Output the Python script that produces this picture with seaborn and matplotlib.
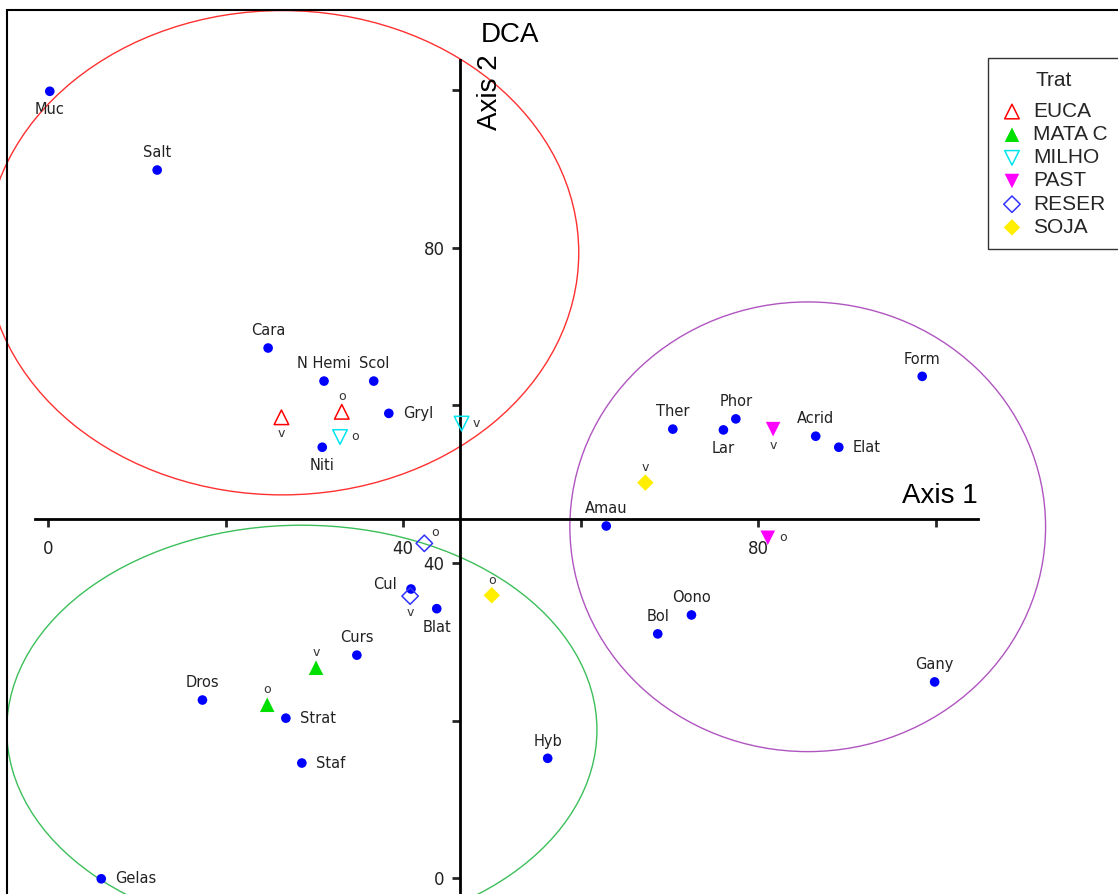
import matplotlib
matplotlib.use('Agg')
import matplotlib.pyplot as plt
import seaborn as sns
import pandas as pd
from matplotlib.patches import Ellipse, Rectangle

sns.set_style('white')

# species scores (DCA axis 1, axis 2)
species = ['Muc', 'Salt', 'Cara', 'N Hemi', 'Scol', 'Gryl', 'Niti', 'Form', 'Ther',
           'Phor', 'Lar', 'Acrid', 'Elat', 'Amau', 'Oono', 'Bol', 'Gany', 'Hyb',
           'Cul', 'Blat', 'Curs', 'Dros', 'Strat', 'Staf', 'Gelas']
sp_ax1 = [0.2, 12.3, 24.8, 31.1, 36.7, 38.4, 30.9, 98.5, 70.4,
          77.5, 76.1, 86.5, 89.1, 62.9, 72.5, 68.7, 99.9, 56.3,
          40.9, 43.8, 34.8, 17.4, 26.8, 28.6, 6.0]
sp_ax2 = [99.9, 89.9, 67.3, 63.1, 63.1, 59.0, 54.7, 63.7, 57.0,
          58.3, 56.9, 56.1, 54.7, 44.7, 33.4, 31.0, 24.9, 15.2,
          36.7, 34.2, 28.3, 22.6, 20.3, 14.6, -0.1]
# where the label goes relative to the point: above, below, right, left
sp_pos = ['below', 'above', 'above', 'above', 'above', 'right', 'below', 'above', 'above',
          'above', 'below', 'above', 'right', 'above', 'above', 'above', 'above', 'above',
          'left', 'below', 'above', 'above', 'right', 'right', 'right']

# sample scores
trat = ['EUCA', 'EUCA', 'MATA C', 'MATA C', 'MILHO', 'MILHO',
        'PAST', 'PAST', 'RESER', 'RESER', 'SOJA', 'SOJA']
sa_ax1 = [26.3, 33.1, 24.7, 30.2, 32.9, 46.6, 81.7, 81.1, 42.4, 40.8, 67.3, 50.0]
sa_ax2 = [58.5, 59.2, 22.0, 26.7, 56.0, 57.7, 57.0, 43.2, 42.5, 35.8, 50.2, 35.9]
sa_lab = ['v', 'o', 'o', 'v', 'o', 'v', 'v', 'o', 'o', 'v', 'v', 'o']
sa_pos = ['below', 'above', 'above', 'above', 'right', 'right',
          'below', 'right', 'aboveright', 'below', 'above', 'above']

trat_names = ['EUCA', 'MATA C', 'MILHO', 'PAST', 'RESER', 'SOJA']
trat_marker = ['^', '^', 'v', 'v', 'D', 'D']
trat_color = ['#ff0000', '#00e000', '#00e5ee', '#ff00ff', '#3333ff', '#ffee00']
trat_filled = [False, True, False, True, False, True]

# group ellipses (center ax1, center ax2, width, height)
ell_center = [(26.4, 79.4), (28.6, 18.8), (85.6, 44.6)]
ell_size = [(66.8, 61.5), (66.5, 52.0), (53.6, 57.1)]
ell_color = ['#ff3030', '#3cbf5a', '#b055c0']

sp = pd.DataFrame({'sp': species, 'ax1': sp_ax1, 'ax2': sp_ax2, 'pos': sp_pos})
sa = pd.DataFrame({'trat': trat, 'ax1': sa_ax1, 'ax2': sa_ax2, 'lab': sa_lab, 'pos': sa_pos})

fig = plt.figure(figsize=(11.18, 8.94), dpi=100)
ax = fig.add_axes([0, 0, 1, 1])
ax.set_xlim(-5.41, 120.56)
ax.set_ylim(-2.03, 111.49)

# the ellipses
for c, s, col in zip(ell_center, ell_size, ell_color):
    ax.add_patch(Ellipse(c, s[0], s[1], fill=False, edgecolor=col, lw=1.0))

# species
sns.scatterplot(data=sp, x='ax1', y='ax2', color='#0000ff', s=48, edgecolor='none',
                ax=ax, legend=False, zorder=3)
offs = {'above': (0, 7, 'center', 'bottom'), 'below': (0, -8, 'center', 'top'),
        'right': (10, 0, 'left', 'center'), 'left': (-10, 3, 'right', 'center'),
        'aboveright': (6, 6, 'left', 'bottom')}
for _, r in sp.iterrows():
    dx, dy, ha, va = offs[r['pos']]
    ax.annotate(r['sp'], (r['ax1'], r['ax2']), xytext=(dx, dy), textcoords='offset points',
                ha=ha, va=va, fontsize=10.5, family='DejaVu Sans', color='#222222')

# samples by treatment
for name, m, col, filled in zip(trat_names, trat_marker, trat_color, trat_filled):
    d = sa[sa['trat'] == name]
    ms = 70 if m == 'D' else 110
    if filled:
        sns.scatterplot(data=d, x='ax1', y='ax2', marker=m, s=ms, color=col,
                        edgecolor='none', ax=ax, label=name, zorder=4)
    else:
        sns.scatterplot(data=d, x='ax1', y='ax2', marker=m, s=ms, facecolor='none',
                        edgecolor=col, linewidth=1.1, ax=ax, label=name, zorder=4)
soffs = {'above': (0, 6, 'center', 'bottom'), 'below': (0, -7, 'center', 'top'),
         'right': (8, 0, 'left', 'center'), 'aboveright': (5, 3, 'left', 'bottom')}
for _, r in sa.iterrows():
    dx, dy, ha, va = soffs[r['pos']]
    ax.annotate(r['lab'], (r['ax1'], r['ax2']), xytext=(dx, dy), textcoords='offset points',
                ha=ha, va=va, fontsize=9, family='DejaVu Sans', color='#333333')

# axes crossing inside the plot
x0, y0 = 46.42, 45.59
for side in ['top', 'right']:
    ax.spines[side].set_visible(False)
ax.spines['left'].set_position(('data', x0))
ax.spines['bottom'].set_position(('data', y0))
ax.spines['left'].set_bounds(-5, 103.9)
ax.spines['bottom'].set_bounds(-1.46, 104.8)
for side in ['left', 'bottom']:
    ax.spines[side].set_linewidth(2)
    ax.spines[side].set_color('black')
ax.set_xticks([0, 20, 40, 60, 80, 100])
ax.set_xticklabels(['0', '', '40', '', '80', ''])
ax.set_yticks([0, 20, 40, 60, 80, 100])
ax.set_yticklabels(['0', '', '40', '', '80', ''])
ax.tick_params(axis='x', direction='out', length=6, width=2, pad=9, labelsize=12,
               bottom=True)
ax.tick_params(axis='y', direction='out', length=6, width=2, pad=5, labelsize=12,
               left=True)
for t in ax.get_xticklabels() + ax.get_yticklabels():
    t.set_family('DejaVu Sans')
    t.set_color('#222222')
ax.set_xlabel('')
ax.set_ylabel('')

lab_font = dict(family='Liberation Sans', fontsize=20, color='black')
fig.text(510 / 1118, 1 - 35 / 894, 'DCA', ha='center', va='center', **lab_font)
fig.text(940 / 1118, 1 - 496 / 894, 'Axis 1', ha='center', va='center', **lab_font)
fig.text(490 / 1118, 1 - 92 / 894, 'Axis 2', ha='center', va='center', rotation=90,
         **lab_font)

# outer frame
fig.patches.append(Rectangle((7 / 1118, -0.1), 1.2, 1.1 - 10 / 894, transform=fig.transFigure,
                             fill=False, edgecolor='black', lw=1.5))

leg = ax.legend(title='Trat', loc='upper left', bbox_to_anchor=(988 / 1118, 1 - 58 / 894),
                bbox_transform=fig.transFigure, frameon=True, fancybox=False,
                prop={'family': 'Liberation Sans', 'size': 15}, title_fontsize=15,
                labelspacing=0.2, handletextpad=0.45, handlelength=1.1, borderpad=0.6,
                borderaxespad=0)
leg.get_title().set_family('Liberation Sans')
leg._legend_box.sep = 9  # a bit more room under the title
leg.get_frame().set_edgecolor('black')
leg.get_frame().set_linewidth(1)

fig.savefig('out.png', dpi=100)
